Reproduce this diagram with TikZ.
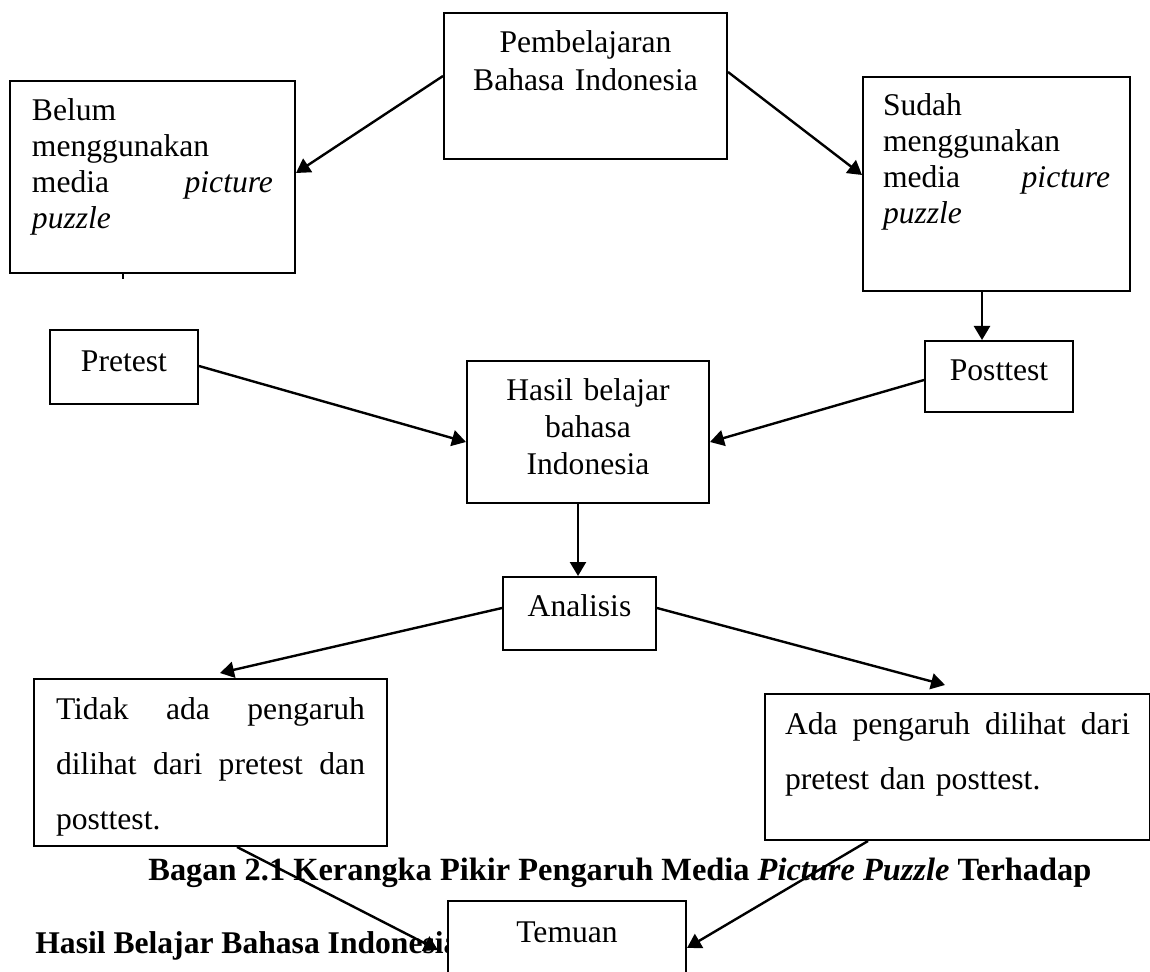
\documentclass[tikz,border=0pt]{standalone}
\usepackage{fontspec}
\setmainfont{Liberation Serif}
\usetikzlibrary{arrows.meta,calc}
\tikzset{
    box/.style={draw, line width=1pt, fill=white, anchor=north west, inner ysep=0pt},
    link/.style={-{Triangle[length=7pt,width=8pt]}, line width=1.2pt},
  }

\begin{document}
\begin{tikzpicture}[x=0.5pt, y=-0.5pt, font=\fontsize{15.8pt}{18pt}\selectfont]
    \useasboundingbox (0,0) rectangle (1150,972);

    %% top row
    \node[box, inner xsep=0pt, text width=141.5pt, text height=20pt, text depth=53pt, align=center, font=\fontsize{15.8pt}{19pt}\selectfont] (pemb) at (443,12) {Pembelajaran\\ Bahasa Indonesia};
    \node[box, inner xsep=11pt, text width=120.5pt, text height=20pt, text depth=76pt, align=left] (belum) at (9,80) {Belum\\ menggunakan\\ media \hfill \textit{picture}\\ \textit{puzzle}};
    \node[box, inner xsep=10pt, text width=113.5pt, text height=19.5pt, text depth=87.5pt, align=left] (sudah) at (862,76) {Sudah\\ menggunakan\\ media \hfill \textit{picture}\\ \textit{puzzle}};

    %% tests and result
    \node[box, inner xsep=0pt, text width=74pt, text height=21pt, text depth=16pt, align=center] (pre) at (49,329) {Pretest};
    \node[box, inner xsep=0pt, text width=74pt, text height=20pt, text depth=15.5pt, align=center] (post) at (924,340) {Posttest};
    \node[box, inner xsep=0pt, text width=121pt, text height=20pt, text depth=51pt, align=center, font=\fontsize{15.8pt}{18.3pt}\selectfont] (hasil) at (466,360) {Hasil belajar\\ bahasa\\ Indonesia};
    \node[box, inner xsep=0pt, text width=76.5pt, text height=19.5pt, text depth=17pt, align=center] (anal) at (502,576) {Analisis};

    %% outcomes
    \node[box, inner xsep=11pt, text width=154.5pt, text height=20pt, text depth=63.5pt, align=left, font=\fontsize{15.8pt}{27.5pt}\selectfont] (tidak) at (33,678) {Tidak \hfill ada \hfill pengaruh\\ dilihat \hfill dari \hfill pretest \hfill dan\\ posttest.};
    \node[box, inner xsep=10pt, text width=172.5pt, text height=20pt, text depth=53pt, align=left, font=\fontsize{15.8pt}{27.5pt}\selectfont] (ada) at (764,693) {Ada \hfill pengaruh \hfill dilihat \hfill dari\\ pretest dan posttest.};

    %% caption, partly hidden behind the last box
    \node[anchor=base west, inner sep=0pt, font=\fontsize{16.2pt}{18pt}\selectfont\bfseries] (cap1) at (148,880) {Bagan 2.1 Kerangka Pikir Pengaruh Media \textit{Picture Puzzle} Terhadap};
    \node[anchor=base west, inner sep=0pt, font=\fontsize{15.8pt}{18pt}\selectfont\bfseries] (cap2) at (35,953) {Hasil Belajar Bahasa Indonesia};
    \node[box, inner xsep=0pt, text width=119pt, text height=20.5pt, text depth=34.5pt, align=center] (temuan) at (447,900) {Temuan};

    \draw[link] ($(pemb.north west)+(0,64)$) -- ($(belum.north east)+(0,93)$);
    \draw[link] ($(pemb.north east)+(0,60)$) -- ($(sudah.north west)+(0,99)$);
    \draw[line width=0.8pt] ($(belum.south west)+(114,0)$) -- ++(0,5);
    \draw[link] ($(sudah.south west)+(120,0)$) -- ($(post.north west)+(58,0)$);
    \draw[link] ($(pre.north east)+(0,37)$) -- ($(hasil.north west)+(0,82)$);
    \draw[link] ($(post.north west)+(0,40)$) -- ($(hasil.north east)+(0,82)$);
    \draw[link] ($(hasil.south west)+(112,0)$) -- ($(anal.north west)+(76,0)$);
    \draw[link] ($(anal.north west)+(0,32)$) -- ($(tidak.north west)+(187,-5)$);
    \draw[link] ($(anal.north east)+(0,32)$) -- ($(ada.north west)+(181,-8)$);
    \draw[link] ($(tidak.south west)+(204,0)$) -- ($(temuan.north west)+(-9,50)$);
    \draw[link] ($(ada.south west)+(104,0)$) -- ($(temuan.north east)+(0,48)$);
  \end{tikzpicture}
\end{document}
